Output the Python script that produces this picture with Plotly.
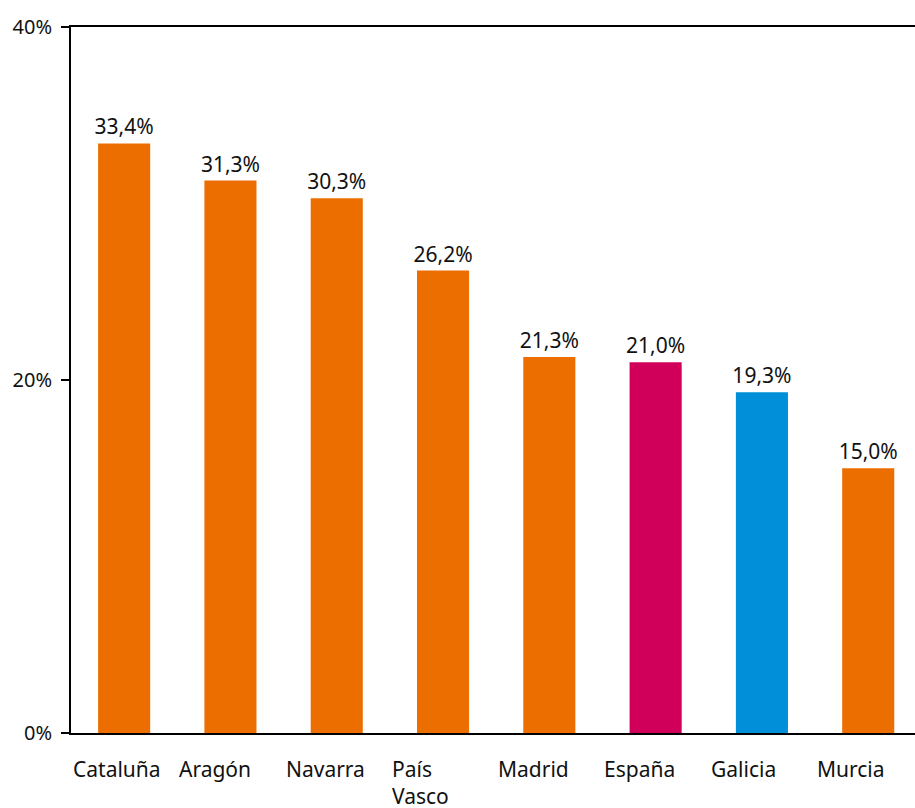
import plotly.graph_objects as go

categories = ["Cataluña", "Aragón", "Navarra", "País<br>Vasco", "Madrid", "España", "Galicia", "Murcia"]
values = [33.4, 31.3, 30.3, 26.2, 21.3, 21.0, 19.3, 15.0]
bar_colors = ["#EC6E00", "#EC6E00", "#EC6E00", "#EC6E00", "#EC6E00", "#D0005A", "#008FD8", "#EC6E00"]
y_tickvals = [0, 20, 40]
y_ticktext = ["0%", "20%", "40%"]

FONT = "Noto Sans"

fig = go.Figure()
fig.add_trace(go.Bar(
    x=list(range(len(categories))),
    y=values,
    marker=dict(color=bar_colors, line=dict(width=0)),
    width=0.49,
    text=[f"{v:.1f}".replace(".", ",") + "%" for v in values],
    textposition="outside",
    constraintext="none",
    textfont=dict(family=FONT, size=21, color="#111111"),
    cliponaxis=False,
    hoverinfo="skip",
))

annotations = []
for i, c in enumerate(categories):
    annotations.append(dict(
        x=i - 0.5, xref="x", y=0, yref="paper",
        text=c, showarrow=False, xanchor="left", yanchor="top", align="left",
        yshift=-20, font=dict(family=FONT, size=21, color="#111111"),
    ))

fig.update_layout(
    width=915, height=808,
    margin=dict(l=71, r=0, t=27, b=75),
    plot_bgcolor="white", paper_bgcolor="white",
    showlegend=False,
    annotations=annotations,
    xaxis=dict(
        range=[-0.5, 7.44], showticklabels=False, ticks="",
        showline=True, linecolor="black", linewidth=2, mirror=True,
        showgrid=False, zeroline=False,
    ),
    yaxis=dict(
        range=[0, 40], tickvals=y_tickvals, ticktext=y_ticktext,
        ticks="outside", ticklen=8, tickwidth=2, tickcolor="black",
        ticklabelstandoff=5,
        showline=True, linecolor="black", linewidth=2,
        showgrid=False, zeroline=False,
        tickfont=dict(family=FONT, size=20, color="#111111"),
    ),
)

fig.write_html(
    "out.html",
    config={"displayModeBar": False},
    post_script="document.body.style.margin='0';document.body.style.overflow='hidden';",
)
